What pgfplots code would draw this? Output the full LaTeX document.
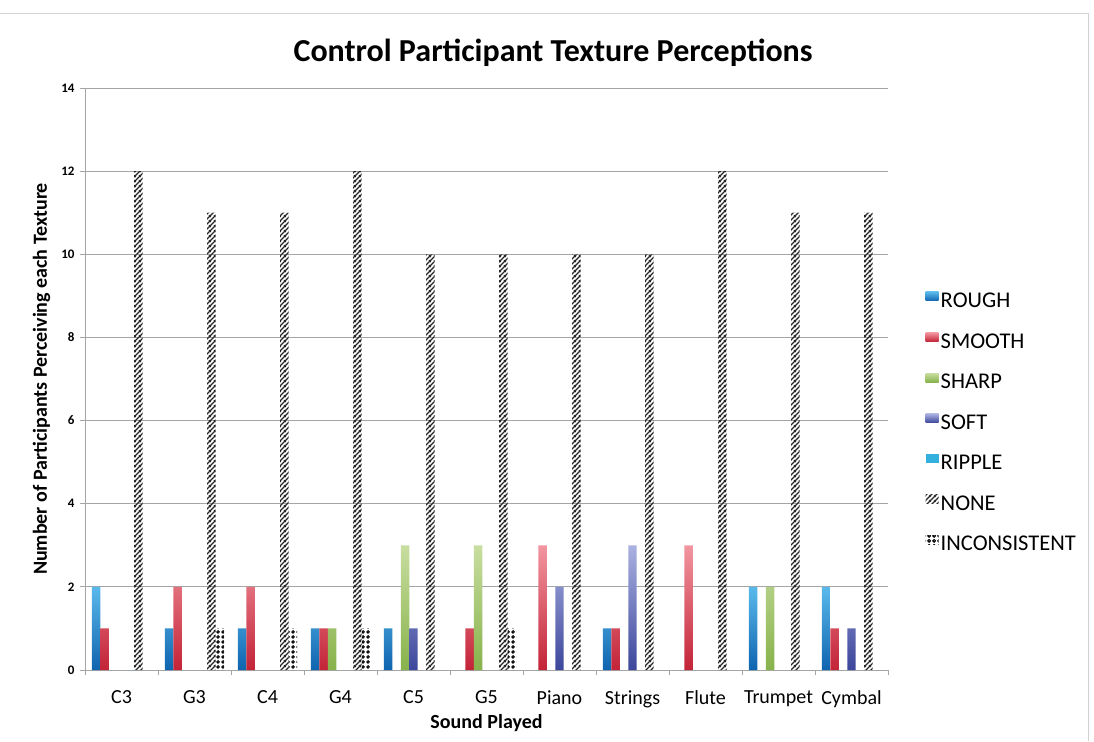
\documentclass[border=0pt]{standalone}
\usepackage{fontspec}
\setmainfont{Carlito}
\usepackage{pgfplots}
\pgfplotsset{compat=1.18}
\usetikzlibrary{patterns,patterns.meta}

\tikzdeclarepattern{
  name=hatchNE,
  type=uncolored,
  bounding box={(0pt,0pt) and (5pt,5pt)},
  tile size={(5pt,5pt)},
  code={
    \draw[line width=1.4pt] (-1pt,-1pt) -- (6pt,6pt);
    \draw[line width=1.4pt] (-1pt,4pt) -- (1pt,6pt);
    \draw[line width=1.4pt] (4pt,-1pt) -- (6pt,1pt);
  }
}
\tikzdeclarepattern{
  name=rings,
  type=uncolored,
  bounding box={(0pt,0pt) and (4.5pt,4.5pt)},
  tile size={(4.5pt,4.5pt)},
  code={
    \draw[line width=1.1pt] (2.25pt,2.25pt) circle (1.4pt);
  }
}

\definecolor{roughT}{RGB}{90,185,235}
\definecolor{roughB}{RGB}{15,100,175}
\definecolor{smoothT}{RGB}{242,150,160}
\definecolor{smoothB}{RGB}{195,35,55}
\definecolor{sharpT}{RGB}{200,222,160}
\definecolor{sharpB}{RGB}{135,178,75}
\definecolor{softT}{RGB}{170,178,225}
\definecolor{softB}{RGB}{60,70,155}
\definecolor{ripple}{RGB}{50,175,220}
\definecolor{gridgray}{RGB}{165,165,165}

\begin{document}
\begin{tikzpicture}
\path[use as bounding box] (-85pt,-71pt) rectangle (1009pt,670pt);
\draw[gray!35, line width=1pt] (-85pt,656pt) -- (1003pt,656pt) -- (1003pt,-71pt);
\begin{axis}[
  scale only axis,
  width=803pt, height=582pt,
  xmin=-0.5, xmax=10.5,
  ymin=0, ymax=14,
  ytick={0,2,...,14},
  xtick={-0.5,0.5,...,10.5},
  x tick label as interval,
  xticklabels={C3,G3,C4,G4,C5,G5,Piano,Strings,Flute,Trumpet,Cymbal},
  axis x line*=bottom, axis y line*=left,
  axis line style={draw=gridgray, line width=0.9pt},
  tick style={draw=gridgray, line width=0.9pt},
  tick align=outside,
  major tick length=5pt,
  ymajorgrids,
  grid style={draw=gridgray, line width=0.9pt},
  /pgf/number format/assume math mode=true,
  yticklabel style={font=\bfseries\fontsize{13}{15}\selectfont, xshift=-2pt},
  xticklabel style={font=\fontsize{20}{24}\selectfont, yshift=-12pt},
  ylabel={Number of Participants Perceiving each Texture},
  ylabel style={font=\bfseries\fontsize{20}{24}\selectfont, at={(axis description cs:-0.054,0.5)}, anchor=center},
  xlabel={Sound Played},
  xlabel style={font=\bfseries\fontsize{20}{24}\selectfont, at={(axis description cs:0.5,-0.091)}, anchor=center},
  title={Control Participant Texture Perceptions},
  title style={font=\bfseries\fontsize{32}{36}\selectfont, at={(0.583,1)}, anchor=south, yshift=12pt},
  ybar=0pt,
  bar width=0.116,
  legend style={at={(1.043,0.425)}, anchor=west, draw=none, fill=none,
    font=\fontsize{22.5}{26}\selectfont, row sep=20.5pt, legend cell align=left},
  legend image code/.code={\path[#1, draw=none] (0pt,0pt) rectangle (13pt,9pt);},
]
\addplot[draw=none, top color=roughT, bottom color=roughB]
  coordinates {(0,2) (1,1) (2,1) (3,1) (4,1) (7,1) (9,2) (10,2)};
\addlegendentry{ROUGH}
\addplot[draw=none, top color=smoothT, bottom color=smoothB]
  coordinates {(0,1) (1,2) (2,2) (3,1) (5,1) (6,3) (7,1) (8,3) (10,1)};
\addlegendentry{SMOOTH}
\addplot[draw=none, top color=sharpT, bottom color=sharpB]
  coordinates {(3,1) (4,3) (5,3) (9,2)};
\addlegendentry{SHARP}
\addplot[draw=none, top color=softT, bottom color=softB]
  coordinates {(4,1) (6,2) (7,3) (10,1)};
\addlegendentry{SOFT}
\addplot[draw=none, fill=ripple]
  coordinates {(0,0)};
\addlegendentry{RIPPLE}
\addplot[draw=none, pattern=hatchNE, pattern color=black!85]
  coordinates {(0,12) (1,11) (2,11) (3,12) (4,10) (5,10) (6,10) (7,10) (8,12) (9,11) (10,11)};
\addlegendentry{NONE}
\addplot[draw=none, pattern=rings, pattern color=black]
  coordinates {(1,1) (2,1) (3,1) (5,1)};
\addlegendentry{INCONSISTENT}
\end{axis}
\end{tikzpicture}
\end{document}
